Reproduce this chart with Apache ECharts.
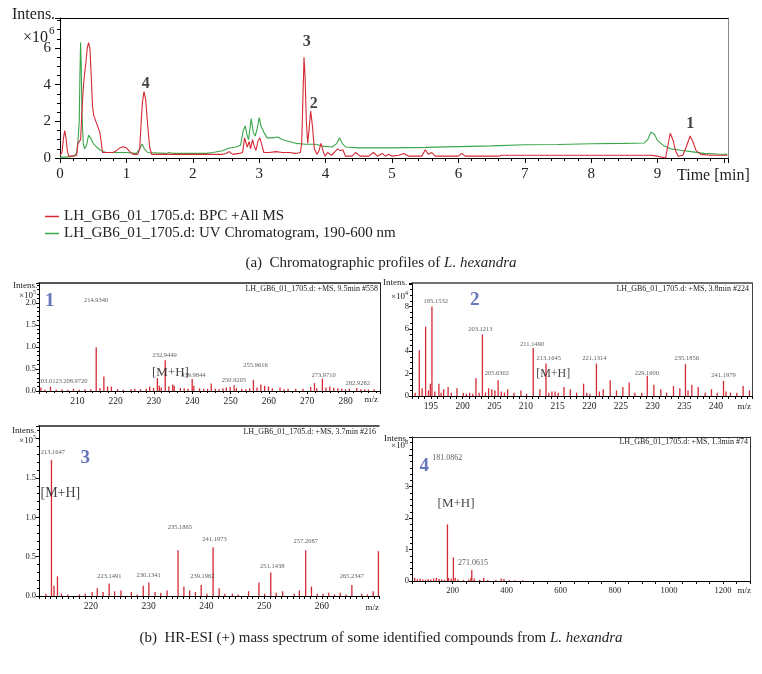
<!DOCTYPE html>
<html><head><meta charset="utf-8">
<script src="https://cdn.jsdelivr.net/npm/echarts@6/dist/echarts.min.js"></script>
<style>html,body{margin:0;padding:0;background:#fff}#c{width:762px;height:674px}</style>
</head><body><div id="c"></div>
<script>
// ---------- DATA ----------
// Chromatogram (a): time [min] and intensity [x10^6]
const bpcTime = [0,0.03,0.05,0.07,0.09,0.11,0.13,0.2,0.25,0.27,0.29,0.31,0.33,0.35,0.37,0.39,0.41,0.43,0.45,0.47,0.49,0.51,0.54,0.57,0.6,0.62,0.64,0.7,0.8,0.85,0.9,0.95,1.0,1.05,1.1,1.17,1.2,1.22,1.24,1.265,1.29,1.32,1.35,1.38,1.5,1.7,2.0,2.2,2.45,2.5,2.55,2.6,2.7,2.75,2.78,2.8,2.82,2.85,2.87,2.9,2.92,2.95,2.98,3.01,3.04,3.07,3.15,3.25,3.35,3.45,3.55,3.62,3.64,3.66,3.675,3.69,3.71,3.73,3.75,3.775,3.8,3.83,3.87,3.9,3.93,3.96,3.99,4.03,4.06,4.09,4.13,4.18,4.22,4.26,4.3,4.4,4.45,4.48,4.52,4.65,4.72,4.78,4.85,4.9,4.95,5.0,5.1,5.18,5.25,5.45,5.5,5.55,5.6,5.65,6.0,6.05,6.1,6.6,6.65,7.6,7.62,7.65,8.9,9.0,9.03,9.12,9.15,9.19,9.23,9.27,9.31,9.38,9.43,9.49,9.53,9.58,9.65,9.8,10.05];
const bpcInt  = [0.15,0.3,1.0,1.5,1.1,0.4,0.1,0.1,0.15,0.8,0.7,1.0,2.5,3.8,4.6,5.2,6.0,6.3,6.0,4.5,2.8,2.3,2.0,1.7,1.4,0.9,0.3,0.3,0.3,0.4,0.55,0.62,0.55,0.35,0.2,0.2,0.5,1.8,3.0,3.62,3.2,1.8,0.6,0.2,0.2,0.2,0.2,0.2,0.2,0.25,0.35,0.2,0.25,0.3,1.1,1.05,0.6,0.9,0.5,1.0,0.7,0.4,0.9,1.1,0.7,0.3,0.3,0.35,0.3,0.3,0.25,0.3,0.8,3.5,5.5,4.5,2.0,0.8,1.5,2.56,1.8,0.5,0.2,0.4,0.8,0.4,0.1,0.3,0.4,0.15,0.3,0.5,0.4,0.45,0.1,0.1,0.3,0.4,0.1,0.1,0.3,0.1,0.25,0.1,0.2,0.1,0.15,0.25,0.1,0.1,0.45,0.2,0.3,0.1,0.1,0.25,0.1,0.1,0.15,0.15,0.2,0.15,0.15,0.1,0.0,0.0,0.6,1.35,1.0,0.4,0.1,0.15,0.6,1.2,0.9,0.4,0.2,0.15,0.15];
const uvTime = [0,0.1,0.2,0.25,0.27,0.29,0.3,0.31,0.32,0.33,0.35,0.37,0.4,0.43,0.46,0.5,0.55,0.6,0.65,0.7,0.8,1.0,1.15,1.2,1.235,1.27,1.32,1.6,1.65,1.7,2.2,2.3,2.45,2.55,2.65,2.72,2.76,2.79,2.82,2.84,2.86,2.88,2.91,2.94,2.97,3.0,3.03,3.07,3.12,3.2,3.28,3.35,3.45,3.55,3.7,3.85,3.95,4.1,4.17,4.21,4.25,4.3,4.5,5.0,5.5,6.0,6.5,7.0,7.5,8.0,8.5,8.8,8.85,8.9,8.95,9.0,9.1,9.2,9.35,9.5,9.7,9.9,10.05];
const uvInt  = [0.05,0.05,0.1,0.25,0.9,2.0,4.5,6.3,5.0,2.5,0.8,0.5,0.7,1.25,1.1,0.8,0.6,0.45,0.35,0.3,0.3,0.3,0.25,0.5,0.76,0.5,0.3,0.25,0.3,0.25,0.25,0.3,0.4,0.55,0.6,0.7,1.5,1.75,1.2,1.0,1.6,2.15,1.4,1.2,1.6,2.2,1.7,1.4,1.1,1.1,1.15,1.0,0.9,0.8,0.75,0.75,0.65,0.6,0.8,1.1,0.8,0.6,0.55,0.55,0.58,0.62,0.66,0.72,0.74,0.78,0.8,0.82,1.0,1.4,1.3,0.95,0.65,0.5,0.42,0.35,0.25,0.22,0.2];
const chromPeakIds = [[3.715,6.34,'3'],[3.82,2.98,'2'],[1.29,4.07,'4'],[9.49,1.89,'1']];

// Spectrum 1 (9.5 min): m/z, intensity [x10^5]
const spec1 = [[200.5,0.08],[201.5,0.03],[203.0,0.1],[204.5,0.03],[206,0.04],[207.5,0.03],[209.0,0.05],[210.5,0.03],[212,0.04],[213.5,0.04],[214.93,0.99],[215.9,0.07],[216.93,0.33],[217.9,0.1],[218.9,0.1],[220.5,0.04],[222,0.03],[224,0.04],[225,0.05],[226.5,0.04],[228,0.05],[228.9,0.1],[229.9,0.07],[230.9,0.29],[231.4,0.12],[231.9,0.08],[232.94,0.70],[233.9,0.1],[234.9,0.15],[235.3,0.12],[236.9,0.07],[237.9,0.06],[238.9,0.05],[239.98,0.27],[240.4,0.12],[241.9,0.06],[243,0.05],[244,0.05],[244.95,0.17],[246,0.05],[247,0.04],[248,0.06],[248.9,0.08],[249.9,0.09],[250.92,0.13],[251.5,0.06],[252.9,0.05],[254,0.04],[255,0.06],[255.96,0.25],[256.9,0.08],[257.9,0.15],[258.9,0.12],[259.9,0.1],[260.9,0.06],[262.9,0.08],[264,0.04],[265,0.05],[267,0.05],[268.9,0.05],[270.9,0.09],[271.9,0.18],[272.5,0.06],[273.97,0.28],[274.9,0.08],[275.9,0.1],[276.9,0.07],[278,0.06],[279,0.05],[280,0.04],[281,0.05],[282.93,0.07],[284,0.04],[285,0.04],[286,0.03],[287.5,0.04]];
const spec1Labels = [[202.8,0.23,'203.0123'],[209.5,0.23,'208.9720'],[214.9,2.05,'214.9340'],[232.8,0.81,'232.9449'],[240.3,0.36,'239.9844'],[250.9,0.24,'250.9205'],[256.5,0.58,'255.9616'],[274.3,0.36,'273.9710'],[283.2,0.17,'282.9282']];
const spec1Ion = [[234.3,0.42,'[M+H]']];
const spec1Id = [[202.8,2.05,'1']];

// Spectrum 2 (3.8 min): m/z, intensity [x10^4]
const spec2 = [[192.5,0.3],[193.15,4.1],[193.6,0.7],[194.15,6.2],[194.6,0.5],[194.9,1.1],[195.15,8.0],[195.6,0.4],[196.25,1.1],[196.6,0.3],[197.0,0.6],[197.7,0.8],[198.2,0.3],[199.1,0.7],[200.1,0.3],[200.6,0.2],[201.1,0.3],[201.6,0.2],[202.1,1.6],[202.6,0.3],[203.12,5.5],[203.6,0.3],[204.1,0.7],[204.6,0.6],[205.1,0.5],[205.6,1.4],[206.1,0.4],[206.6,0.3],[207.1,0.6],[208.1,0.3],[209.2,0.5],[210.1,0.2],[211.15,4.3],[212.2,0.6],[213.16,2.9],[213.6,0.3],[214.1,0.4],[214.6,0.4],[215.1,0.3],[216.0,0.8],[217.0,0.6],[218.0,0.3],[219.1,1.1],[219.6,0.3],[220.1,0.2],[221.13,2.9],[221.6,0.4],[222.2,0.6],[223.3,1.4],[224.3,0.5],[225.3,0.8],[226.3,1.2],[227.2,0.3],[228.3,0.3],[229.16,1.8],[230.2,1.0],[231.3,0.6],[232.2,0.3],[233.3,0.9],[234.3,0.7],[235.19,2.85],[235.6,0.5],[236.2,1.0],[237.2,0.8],[238.3,0.3],[239.3,0.6],[240.2,0.3],[241.2,1.35],[241.6,0.4],[242.3,0.3],[243.3,0.3],[244.3,0.9],[245.3,0.5]];
const spec2Labels = [[195.75,8.46,'195.1532'],[202.8,5.98,'203.1213'],[205.4,2.03,'205.6302'],[210.97,4.63,'211.1490'],[213.6,3.38,'213.1645'],[220.8,3.38,'221.1314'],[229.1,2.03,'229.1600'],[235.4,3.38,'235.1856'],[241.2,1.88,'241.1979']];
const spec2Ion = [[214.3,1.94,'[M+H]']];
const spec2Id = [[201.9,8.6,'2']];

// Spectrum 3 (3.7 min): m/z, intensity [x10^5]
const spec3 = [[212.2,0.03],[213.16,1.73],[213.6,0.13],[214.2,0.25],[214.9,0.03],[216,0.02],[218,0.02],[219,0.03],[220.2,0.05],[221.1,0.10],[222.1,0.05],[223.15,0.16],[224.1,0.06],[225.2,0.07],[227.0,0.05],[228,0.02],[229.06,0.13],[230.03,0.17],[231.1,0.05],[232.1,0.04],[233.2,0.07],[235.09,0.58],[236.1,0.12],[237.1,0.07],[238.1,0.05],[239.1,0.14],[240.1,0.03],[241.16,0.62],[242.2,0.1],[243.2,0.03],[244.5,0.03],[245.5,0.02],[247.3,0.06],[249.1,0.17],[250.1,0.03],[251.15,0.30],[252.1,0.04],[253.2,0.06],[255.2,0.03],[256.1,0.07],[257.2,0.58],[258.2,0.12],[259.2,0.03],[260.2,0.03],[261.2,0.04],[262.2,0.02],[263.2,0.04],[264.2,0.02],[265.2,0.14],[266.9,0.03],[267.9,0.02],[268.9,0.06],[269.8,0.57]];
const spec3Labels = [[213.4,1.82,'213.1647'],[223.2,0.245,'223.1491'],[230.0,0.26,'230.1341'],[235.4,0.87,'235.1865'],[239.3,0.245,'239.1962'],[241.4,0.72,'241.1973'],[251.4,0.38,'251.1438'],[257.2,0.69,'257.2087'],[265.2,0.245,'265.2347']];
const spec3Ion = [[214.7,1.30,'[M+H]']];
const spec3Id = [[219.0,1.75,'3']];

// Spectrum 4 (1.3 min): m/z, intensity [x10^6]
const spec4 = [[60,0.1],[70,0.06],[80,0.08],[90,0.05],[100,0.04],[110,0.06],[120,0.05],[130,0.08],[140,0.1],[150,0.07],[160,0.05],[170,0.04],[181.09,1.8],[185,0.1],[195,0.08],[203.07,0.75],[210,0.1],[220,0.05],[240,0.03],[260,0.05],[268,0.1],[271.06,0.35],[280,0.08],[300,0.04],[315,0.1],[330,0.03],[360,0.03],[380,0.08],[390,0.06],[410,0.03],[430,0.02],[460,0.02]];
const spec4Labels = [[180,3.9,'181.0862'],[276,0.56,'271.0615']];
const spec4Ion = [[213,2.46,'[M+H]']];
const spec4Id = [[95,3.64,'4']];

const specTitles = ['LH_GB6_01_1705.d: +MS, 9.5min #558','LH_GB6_01_1705.d: +MS, 3.8min #224','LH_GB6_01_1705.d: +MS, 3.7min #216','LH_GB6_01_1705.d: +MS, 1.3min #74'];
const seriesNames = ['LH_GB6_01_1705.d: BPC +All MS','LH_GB6_01_1705.d: UV Chromatogram, 190-600 nm'];

// ---------- BUILD ----------
const FONT = "'Liberation Serif','DejaVu Serif',serif";
const RED = '#d42a36', GREEN = '#3aa64a', BLUE = '#3f52a8';
const chart = echarts.init(document.getElementById('c'), null, {renderer:'canvas'});

const grids = [
  {left:60, top:18, width:668, height:140},
  {left:39, top:283, width:341, height:108},
  {left:412, top:283, width:340, height:113},
  {left:39, top:426, width:340, height:170},
  {left:412, top:437, width:338, height:144}
];
const xAxes = [], yAxes = [];
function stepFmt(step, lo, hi, digits){
  return function(v){
    const r = v/step;
    if (Math.abs(r-Math.round(r))>1e-6 || v<lo-1e-9 || v>hi+1e-9) return '';
    return digits ? v.toFixed(digits) : String(Math.round(v));
  };
}
function addPanel(g, c){
  const xi = xAxes.length, yi = yAxes.length;
  xAxes.push({type:'value', gridIndex:g, min:c.xmin, max:c.xmax, interval:c.xint,
    axisLine:{onZero:false, lineStyle:{color:'#000', width:1}},
    axisTick:{show:true, length:c.tl, lineStyle:{color:'#000'}},
    minorTick:{show:c.xminor>0, splitNumber:c.xminor||5, length:Math.ceil(c.tl/2), lineStyle:{color:'#000'}},
    splitLine:{show:false},
    axisLabel:{fontFamily:FONT, fontSize:c.xfs, color:'#222', margin:c.xm, formatter:stepFmt(c.xlab, c.xlo, c.xhi, 0)}});
  xAxes.push({type:'value', gridIndex:g, position:'top', min:0, max:1,
    axisLine:{onZero:false, lineStyle:{color:c.frame, width:c.fw}}, axisTick:{show:false}, axisLabel:{show:false}, splitLine:{show:false}});
  yAxes.push({type:'value', gridIndex:g, min:0, max:c.ymax, interval:c.yint,
    axisLine:{onZero:false, lineStyle:{color:'#000', width:1}},
    axisTick:{show:true, length:c.tl, lineStyle:{color:'#000'}},
    minorTick:{show:true, splitNumber:c.yminor, length:Math.ceil(c.tl/2), lineStyle:{color:'#000'}},
    splitLine:{show:false},
    axisLabel:{fontFamily:FONT, fontSize:c.yfs, color:'#222', margin:c.ym, formatter:stepFmt(c.yint, 0, c.yhi, c.yd)}});
  if (c.right){
    yAxes.push({type:'value', gridIndex:g, position:'right', min:0, max:1,
      axisLine:{onZero:false, lineStyle:{color:c.rightColor, width:1}}, axisTick:{show:false}, axisLabel:{show:false}, splitLine:{show:false}});
  }
  return {xi, yi};
}
const P0 = addPanel(0,{xmin:0,xmax:10.06,xint:1,xminor:5,xlab:1,xlo:0,xhi:9,xfs:15,xm:9,tl:5,ymax:7.64,yint:2,yminor:4,yhi:6,yd:0,yfs:15,ym:9,frame:'#000',fw:1.2,right:true,rightColor:'#888'});
const P1 = addPanel(1,{xmin:200,xmax:289,xint:10,xminor:5,xlab:10,xlo:205,xhi:285,xfs:9.5,xm:5,tl:3,ymax:2.45,yint:0.5,yminor:5,yhi:2.0,yd:1,yfs:8.5,ym:3,frame:'#222',fw:1.5,right:true,rightColor:'#222'});
const P2 = addPanel(2,{xmin:192,xmax:245.7,xint:1,xminor:0,xlab:5,xlo:193,xhi:241,xfs:9.5,xm:5,tl:3,ymax:10.1,yint:2,yminor:4,yhi:8,yd:0,yfs:8.5,ym:3,frame:'#444',fw:1.5,right:true,rightColor:'#444'});
const P3 = addPanel(3,{xmin:211,xmax:269.9,xint:1,xminor:0,xlab:10,xlo:215,xhi:265,xfs:9.5,xm:5,tl:3,ymax:2.16,yint:0.5,yminor:5,yhi:1.5,yd:1,yfs:8.5,ym:3,frame:'#222',fw:1.5,right:false});
const P4 = addPanel(4,{xmin:50,xmax:1300,xint:50,xminor:0,xlab:200,xlo:100,xhi:1250,xfs:8.5,xm:5,tl:3,ymax:4.58,yint:1,yminor:5,yhi:3,yd:0,yfs:8.5,ym:3,frame:'#333',fw:1.2,right:true,rightColor:'#333'});

const series = [];
series.push({name:seriesNames[1], type:'line', xAxisIndex:P0.xi, yAxisIndex:P0.yi, symbol:'none', smooth:false,
  lineStyle:{color:GREEN, width:1.1}, itemStyle:{color:GREEN}, data:uvTime.map((t,i)=>[t,uvInt[i]])});
series.push({name:seriesNames[0], type:'line', xAxisIndex:P0.xi, yAxisIndex:P0.yi, symbol:'none', smooth:false,
  lineStyle:{color:RED, width:1.1}, itemStyle:{color:RED}, data:bpcTime.map((t,i)=>[t,bpcInt[i]])});

function labels(P, arr, lab){
  series.push({type:'scatter', xAxisIndex:P.xi, yAxisIndex:P.yi, symbolSize:0, silent:true, z:5,
    data:arr.map(a=>({value:[a[0],a[1]], name:a[2]})),
    label:Object.assign({show:true, position:'inside', formatter:'{b}', fontFamily:FONT}, lab)});
}
labels(P0, chromPeakIds, {fontSize:16, fontWeight:'bold', color:'#111'});

function spectrum(P, sticks, lbls, ion, id, ionSize, lblSize){
  series.push({type:'bar', xAxisIndex:P.xi, yAxisIndex:P.yi, barWidth:1.3, itemStyle:{color:RED}, data:sticks});
  labels(P, lbls, {fontSize:lblSize, color:'#333'});
  labels(P, ion, {fontSize:ionSize, color:'#111'});
  labels(P, id, {fontSize:19, fontWeight:'bold', color:BLUE});
}
spectrum(P1, spec1, spec1Labels, spec1Ion, spec1Id, 13, 6.5);
spectrum(P2, spec2, spec2Labels, spec2Ion, spec2Id, 12, 6.5);
spectrum(P3, spec3, spec3Labels, spec3Ion, spec3Id, 14, 6.5);
spectrum(P4, spec4, spec4Labels, spec4Ion, spec4Id, 13, 8);

function txt(x,y,text,size,align){
  return {type:'text', x:x, y:y, silent:true, style:{text:text, font:size+'px '+FONT, fill:'#222', textAlign:align||'left', textVerticalAlign:'middle'}};
}
const graphics = [
  txt(12,15,'Intens.',16),
  txt(48,38,'×10',16,'right'), txt(49,31,'6',11),
  txt(677,176,'Time [min]',16),
  txt(378,289,specTitles[0],8,'right'),
  txt(749,289,specTitles[1],8,'right'),
  txt(376,432,specTitles[2],8,'right'),
  txt(748,442,specTitles[3],8,'right'),
  txt(13,286,'Intens.',9), txt(33,296,'×10',9,'right'), txt(33,292,'5',6),
  txt(383,283,'Intens.',9), txt(405,297,'×10',9,'right'), txt(405,293,'4',6),
  txt(12,431,'Intens.',9), txt(33,441,'×10',9,'right'), txt(33,437,'5',6),
  txt(384,439,'Intens.',9), txt(405,446,'×10',9,'right'), txt(405,442,'6',6),
  txt(378,400,'m/z',9,'right'), txt(751,407,'m/z',9,'right'), txt(379,608,'m/z',9,'right'), txt(751,591,'m/z',9,'right')
];

chart.setOption({
  animation:false,
  backgroundColor:'#fff',
  grid:grids,
  xAxis:xAxes, yAxis:yAxes,
  legend:{data:seriesNames, orient:'vertical', left:40, top:204, itemWidth:14, itemHeight:1.5, itemGap:2, icon:'rect',
    textStyle:{fontFamily:FONT, fontSize:15, color:'#222'}},
  title:[
    {text:'(a)  Chromatographic profiles of {i|L. hexandra}', left:'center', top:251,
      textStyle:{fontFamily:FONT, fontSize:15, fontWeight:'normal', color:'#222', rich:{i:{fontFamily:FONT, fontSize:15, fontStyle:'italic', color:'#222'}}}},
    {text:'(b)  HR-ESI (+) mass spectrum of some identified compounds from {i|L. hexandra}', left:'center', top:626,
      textStyle:{fontFamily:FONT, fontSize:15, fontWeight:'normal', color:'#222', rich:{i:{fontFamily:FONT, fontSize:15, fontStyle:'italic', color:'#222'}}}}
  ],
  graphic:graphics,
  series:series
});
</script></body></html>
